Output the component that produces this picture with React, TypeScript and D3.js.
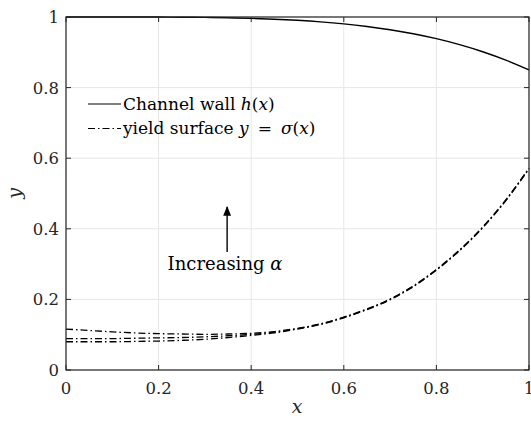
import React from "react";
import * as d3 from "d3";

const xs = [0, 0.05, 0.1, 0.15, 0.2, 0.25, 0.3, 0.35, 0.4, 0.45, 0.5, 0.55, 0.6, 0.65, 0.7, 0.75, 0.8, 0.85, 0.9, 0.95, 1.0];
const wall = [1.0, 1.0, 1.0, 0.9999, 0.9998, 0.9994, 0.9988, 0.9977, 0.9962, 0.9938, 0.9906, 0.9863, 0.9806, 0.9732, 0.964, 0.9525, 0.9386, 0.9217, 0.9016, 0.8778, 0.85];
const yieldHigh = [0.116, 0.112, 0.108, 0.105, 0.103, 0.102, 0.101, 0.102, 0.104, 0.109, 0.118, 0.131, 0.15, 0.173, 0.201, 0.238, 0.285, 0.34, 0.405, 0.482, 0.572];
const yieldMid = [0.089, 0.089, 0.089, 0.09, 0.091, 0.092, 0.094, 0.097, 0.101, 0.107, 0.117, 0.13, 0.149, 0.172, 0.2, 0.237, 0.284, 0.339, 0.404, 0.481, 0.571];
const yieldLow = [0.08, 0.08, 0.08, 0.081, 0.082, 0.084, 0.087, 0.092, 0.098, 0.105, 0.116, 0.129, 0.148, 0.171, 0.199, 0.236, 0.283, 0.338, 0.403, 0.48, 0.57];
const xTicks = [0, 0.2, 0.4, 0.6, 0.8, 1];
const yTicks = [0, 0.2, 0.4, 0.6, 0.8, 1];
const legendLabels = ["Channel wall ", "yield surface "];

const W = 531, H = 424;
const L = 66, R = 529, T = 17, B = 370;
const font = "'DejaVu Serif', serif";
const axisColor = "#262626";
const dashDot = "7,3,1.5,3";

export default function App() {
  const x = d3.scaleLinear().domain([0, 1]).range([L, R]);
  const y = d3.scaleLinear().domain([0, 1]).range([B, T]);
  const line = (vals: number[]) =>
    d3.line<number>().x((_, i) => x(xs[i])).y((v) => y(v)).curve(d3.curveMonotoneX)(vals) || "";

  return (
    <svg width={W} height={H} style={{ position: "absolute", left: 0, top: 0, fontFamily: font }}>
      <rect x={0} y={0} width={W} height={H} fill="#fff" />
      {xTicks.map((t) => (
        <line key={"gx" + t} x1={x(t)} x2={x(t)} y1={T} y2={B} stroke="#e6e6e6" strokeWidth={1} />
      ))}
      {yTicks.map((t) => (
        <line key={"gy" + t} x1={L} x2={R} y1={y(t)} y2={y(t)} stroke="#e6e6e6" strokeWidth={1} />
      ))}
      <path d={line(wall)} fill="none" stroke="#000" strokeWidth={1.4} />
      {[yieldHigh, yieldMid, yieldLow].map((s, i) => (
        <path key={i} d={line(s)} fill="none" stroke="#000" strokeWidth={1.3} strokeDasharray={dashDot} />
      ))}
      <rect x={L} y={T} width={R - L} height={B - T} fill="none" stroke={axisColor} strokeWidth={1.2} />
      {xTicks.map((t) => (
        <g key={"tx" + t}>
          <line x1={x(t)} x2={x(t)} y1={B} y2={B - 5} stroke={axisColor} />
          <line x1={x(t)} x2={x(t)} y1={T} y2={T + 5} stroke={axisColor} />
          <text x={x(t)} y={B + 24} textAnchor="middle" fontSize={16.5} fill={axisColor}>
            {String(t)}
          </text>
        </g>
      ))}
      {yTicks.map((t) => (
        <g key={"ty" + t}>
          <line x1={L} x2={L + 5} y1={y(t)} y2={y(t)} stroke={axisColor} />
          <line x1={R} x2={R - 5} y1={y(t)} y2={y(t)} stroke={axisColor} />
          <text x={L - 7} y={y(t) + 6} textAnchor="end" fontSize={16.5} fill={axisColor}>
            {String(t)}
          </text>
        </g>
      ))}
      <text x={297} y={413} textAnchor="middle" fontSize={19} fontStyle="italic" fill={axisColor}>
        x
      </text>
      <text
        transform={`translate(21, ${(T + B) / 2}) rotate(-90)`}
        textAnchor="middle"
        fontSize={19}
        fontStyle="italic"
        fill={axisColor}
      >
        y
      </text>
      <line x1={88} x2={121} y1={104} y2={104} stroke="#000" strokeWidth={1.2} />
      <text x={123} y={110} fontSize={17} fill="#000">
        {legendLabels[0]}
        <tspan fontStyle="italic">h</tspan>(<tspan fontStyle="italic">x</tspan>)
      </text>
      <line x1={88} x2={121} y1={128.5} y2={128.5} stroke="#000" strokeWidth={1.2} strokeDasharray={dashDot} />
      <text x={123} y={134} fontSize={17} fill="#000">
        {legendLabels[1]}
        <tspan fontStyle="italic">y</tspan>
        <tspan dx={9}>=</tspan>
        <tspan dx={9} fontStyle="italic">σ</tspan>(<tspan fontStyle="italic">x</tspan>)
      </text>
      <defs>
        <marker id="ah" viewBox="0 0 10 10" refX="9" refY="5" markerWidth="7" markerHeight="7" orient="auto">
          <path d="M0,1 L10,5 L0,9 z" fill="#000" />
        </marker>
      </defs>
      <line x1={x(0.348)} x2={x(0.348)} y1={y(0.334)} y2={y(0.462)} stroke="#000" strokeWidth={1.4} markerEnd="url(#ah)" />
      <text x={225} y={270} textAnchor="middle" fontSize={18} fill="#000">
        Increasing <tspan fontStyle="italic">α</tspan>
      </text>
    </svg>
  );
}
